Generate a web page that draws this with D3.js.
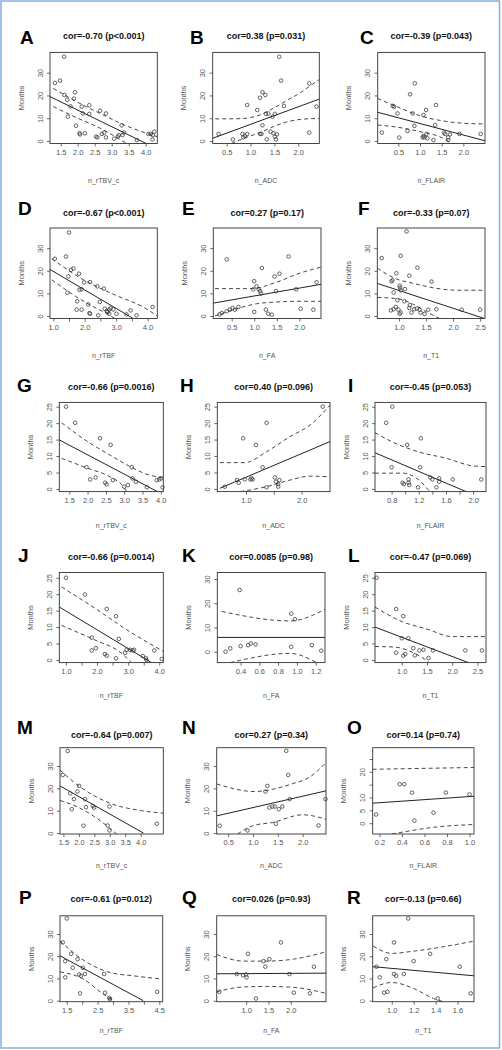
<!DOCTYPE html>
<html><head><meta charset="utf-8">
<script src="https://cdn.jsdelivr.net/npm/d3@7"></script>
<style>body{margin:0;background:#fff}svg{display:block}text{font-family:"Liberation Sans",Arial,sans-serif}</style>
</head><body><svg id="c" width="502" height="1050"></svg>
<script>
// ---------- DATA ----------
const panelLetters = ["A","B","C","D","E","F","G","H","I","J","K","L","M","N","O","P","Q","R"];
const corTitles = ["cor=-0.70 (p<0.001)","cor=0.38 (p=0.031)","cor=-0.39 (p=0.043)",
 "cor=-0.67 (p<0.001)","cor=0.27 (p=0.17)","cor=-0.33 (p=0.07)",
 "cor=-0.66 (p=0.0016)","cor=0.40 (p=0.096)","cor=-0.45 (p=0.053)",
 "cor=-0.66 (p=0.0014)","cor=0.0085 (p=0.98)","cor=-0.47 (p=0.069)",
 "cor=-0.64 (p=0.007)","cor=0.27 (p=0.34)","cor=0.14 (p=0.74)",
 "cor=-0.61 (p=0.012)","cor=0.026 (p=0.93)","cor=-0.13 (p=0.66)"];
const xAxisTitles = ["n_rTBV_c","n_ADC","n_FLAIR","n_rTBF","n_FA","n_T1",
 "n_rTBV_c","n_ADC","n_FLAIR","n_rTBF","n_FA","n_T1",
 "n_rTBV_c","n_ADC","n_FLAIR","n_rTBF","n_FA","n_T1"];
const yAxisTitle = "Months";

const xDomains = [[1.185,4.34],[0.207,2.44],[0.023,2.5],[0.894,4.31],[0.093,2.48],[0.598,2.59],
 [1.226,4.07],[0.485,2.51],[0.555,2.19],[0.786,4.13],[0.152,1.30],[0.47,2.67],
 [1.39,4.73],[0.27,2.47],[0.14,1.04],[1.28,4.61],[0.34,2.79],[0.826,1.75]];
const yDomains = [[-1.1,38.9],[-1.1,38.9],[-1.1,38.9],[-1.1,38.9],[-1.1,38.9],[-1.1,38.9],
 [-0.8,26.3],[-0.8,26.3],[-0.8,26.3],[-0.8,26.6],[-4.5,32.7],[-0.8,26.6],
 [-0.4,38.2],[-0.4,38.2],[-4.2,29.4],[-0.45,38.2],[-0.45,38.2],[-0.45,38.2]];

const xTickValues = [[1.5,2,2.5,3,3.5,4],[0.5,1,1.5,2],[0.5,1,1.5,2],[1,1.5,2,2.5,3,3.5,4],[0.5,1,1.5,2],[1,1.5,2,2.5],
 [1.5,2,2.5,3,3.5,4],[1,1.5,2],[0.8,1,1.2,1.4,1.6,1.8,2],[1,1.5,2,2.5,3,3.5,4],[0.4,0.6,0.8,1,1.2],[1,1.5,2,2.5],
 [1.5,2,2.5,3,3.5,4],[0.5,1,1.5,2],[0.2,0.4,0.6,0.8,1],[1.5,2,2.5,3,3.5,4,4.5],[1,1.5,2],[1,1.2,1.4,1.6]];
const xTickText = [["1.5","2.0","2.5","3.0","3.5","4.0"],["0.5","1.0","1.5","2.0"],["0.5","1.0","1.5","2.0"],
 ["1.0","","2.0","","3.0","","4.0"],["0.5","1.0","1.5","2.0"],["1.0","1.5","2.0","2.5"],
 ["1.5","2.0","2.5","3.0","3.5","4.0"],["1.0","","2.0"],["0.8","","1.2","","1.6","","2.0"],
 ["1.0","","2.0","","3.0","","4.0"],["0.4","0.6","0.8","1.0","1.2"],["1.0","1.5","2.0","2.5"],
 ["1.5","2.0","2.5","3.0","3.5","4.0"],["0.5","1.0","1.5","2.0"],["0.2","0.4","0.6","0.8","1.0"],
 ["1.5","","2.5","","3.5","","4.5"],["1.0","1.5","2.0"],["1.0","1.2","1.4","1.6"]];
const yTicks10 = [0,10,20,30], yTicks5 = [0,5,10,15,20,25];
const yTickValues = [yTicks10,yTicks10,yTicks10,yTicks10,yTicks10,yTicks10,
 yTicks5,yTicks5,yTicks5,yTicks5,yTicks10,yTicks5,
 yTicks10,yTicks10,[0,5,10,15,20,25],yTicks10,yTicks10,yTicks10];
const yTickText = yTickValues.map((t,i)=> i===14 ? ["0","5","10","","20",""] : t.map(String));

const ptsA=[[1.60,37.0],[1.33,25.5],[1.48,26.5],[1.61,20.2],[1.69,18.1],[1.79,15.2],[1.89,18.6],[1.92,21.4],[1.71,10.7],[1.95,6.7],[2.12,15.1],[2.15,12.1],[2.34,15.7],[2.34,11.9],[2.07,2.9],[2.05,3.4],[2.21,3.4],[2.54,1.9],[2.58,1.6],[2.66,13.3],[2.83,12.1],[2.71,3.1],[2.78,3.7],[2.83,1.6],[3.07,1.0],[3.18,1.9],[3.21,2.6],[3.29,6.9],[3.36,3.7],[3.32,2.6],[3.74,0.4],[4.08,3.1],[4.15,3.1],[4.21,2.6],[4.25,4.1],[4.20,0.7]];
const ptsB=[[1.60,37.0],[1.64,26.5],[2.23,25.3],[1.20,19.0],[1.25,21.4],[1.31,20.2],[0.93,15.8],[1.14,13.6],[1.70,15.4],[2.38,15.1],[1.32,11.9],[1.37,12.1],[1.51,11.9],[1.46,10.7],[1.25,6.9],[0.33,3.1],[0.63,0.7],[0.83,3.1],[0.93,3.1],[0.85,1.6],[1.20,3.1],[1.23,3.1],[1.34,0.7],[1.42,4.1],[1.48,3.4],[1.51,1.9],[1.53,0.7],[1.55,2.9],[2.23,3.7],[0.88,2.2]];
const ptsC=[[0.88,25.3],[0.77,20.5],[1.37,15.8],[0.37,15.4],[0.40,15.1],[0.48,12.1],[1.14,13.6],[1.08,11.4],[0.83,12.1],[1.35,7.0],[0.87,6.6],[0.71,4.4],[0.12,3.7],[0.52,1.5],[1.08,2.2],[1.10,1.6],[1.15,3.1],[1.17,1.2],[1.31,0.4],[1.55,3.7],[1.58,3.1],[1.65,1.6],[1.69,2.9],[1.91,3.1],[2.40,3.1],[1.06,1.6],[1.65,0.4]];
const ptsD=[[1.50,36.9],[1.05,25.3],[1.40,26.3],[1.56,20.4],[1.64,21.0],[1.48,17.5],[1.82,18.7],[1.45,10.3],[1.83,11.6],[1.90,11.8],[1.98,14.9],[2.17,15.0],[2.40,13.1],[2.61,12.1],[1.76,6.5],[1.74,2.8],[1.90,2.8],[2.15,1.3],[2.17,1.0],[2.43,0.3],[2.48,6.2],[2.64,3.2],[2.70,2.2],[2.73,1.8],[2.78,2.8],[2.82,3.4],[2.91,2.9],[2.78,1.0],[3.01,1.0],[3.33,0.7],[3.46,2.5],[3.65,0.3],[4.16,4.0],[2.11,5.1]];
const ptsE=[[0.39,25.0],[1.76,26.3],[1.17,21.2],[1.45,17.5],[1.56,18.7],[1.00,15.4],[1.05,13.1],[1.10,11.8],[0.98,11.8],[1.13,11.0],[1.15,9.9],[1.48,11.0],[1.93,11.8],[2.38,14.9],[0.23,0.7],[0.28,1.3],[0.39,2.1],[0.46,2.8],[0.52,3.5],[0.57,2.8],[0.65,4.0],[1.00,1.8],[1.26,2.8],[1.31,1.0],[1.39,0.6],[2.03,3.2],[2.31,2.8]];
const ptsF=[[1.14,37.4],[0.68,25.6],[1.03,26.6],[1.34,21.4],[1.19,17.8],[0.86,15.3],[0.88,15.8],[0.95,18.9],[1.60,15.2],[1.01,13.4],[1.02,12.5],[1.03,11.4],[1.11,11.9],[0.90,10.4],[0.97,7.0],[1.10,6.5],[0.85,2.5],[0.90,3.0],[0.94,4.0],[0.99,2.8],[1.01,1.0],[1.03,1.5],[1.19,3.6],[1.23,1.5],[1.28,3.0],[1.33,3.3],[1.38,2.8],[1.40,1.5],[1.47,0.9],[1.54,2.8],[1.69,3.0],[2.16,2.8],[2.50,2.8],[1.20,4.8]];
const ptsG=[[1.41,25.0],[1.66,20.1],[2.34,15.4],[2.63,13.4],[1.97,6.6],[2.07,2.9],[2.22,3.5],[2.48,1.9],[2.52,1.4],[2.69,2.7],[3.00,0.7],[3.10,1.2],[3.21,6.6],[3.23,3.2],[3.32,2.2],[3.62,0.5],[3.89,2.7],[3.96,2.9],[4.01,3.2],[4.05,0.5]];
const ptsH=[[2.38,25.0],[1.37,20.1],[0.95,15.4],[1.18,13.4],[1.30,6.6],[0.62,0.7],[0.84,2.7],[0.87,1.9],[0.98,2.9],[1.08,2.9],[1.10,3.2],[1.12,2.9],[1.37,0.5],[1.52,3.5],[1.54,2.2],[1.58,1.5],[1.58,0.7],[1.60,2.7]];
const ptsI=[[0.72,20.1],[0.81,25.0],[0.80,6.6],[1.03,13.4],[1.23,15.4],[1.22,6.6],[0.96,1.9],[0.98,1.5],[1.05,2.9],[1.06,1.2],[1.05,1.9],[1.19,0.5],[1.37,3.5],[1.40,2.9],[1.46,0.5],[1.50,3.2],[1.50,2.2],[1.70,2.9],[2.12,2.9]];
const ptsJ=[[1.00,25.0],[1.61,19.9],[2.31,15.5],[2.61,13.3],[1.83,6.8],[2.70,6.4],[1.83,2.9],[1.96,3.6],[2.25,1.8],[2.31,1.3],[2.61,0.5],[2.90,2.2],[2.95,3.1],[3.06,3.1],[3.14,2.9],[3.19,3.1],[3.47,1.2],[3.59,0.0],[3.57,0.5],[3.84,2.9],[4.08,0.3]];
const ptsK=[[0.24,0.0],[0.29,1.4],[0.39,25.5],[0.40,2.3],[0.48,2.7],[0.51,3.4],[0.56,3.0],[0.94,2.0],[0.94,15.7],[0.98,13.4],[1.16,2.7],[1.26,0.4]];
const ptsL=[[0.50,25.0],[0.89,15.5],[1.03,13.3],[1.00,6.6],[1.13,6.6],[0.89,2.2],[1.03,1.3],[1.07,1.8],[1.23,3.6],[1.26,1.4],[1.35,2.9],[1.43,3.1],[1.53,0.6],[1.62,2.9],[2.26,2.9],[2.59,2.9]];
const ptsM=[[1.64,36.7],[1.48,26.0],[1.72,17.8],[1.77,10.7],[1.84,15.2],[1.95,18.6],[2.01,21.1],[2.20,15.2],[2.23,11.6],[2.15,3.3],[2.45,12.2],[2.49,11.4],[2.99,11.9],[2.93,3.4],[2.99,1.2],[4.52,4.2]];
const ptsN=[[1.67,36.8],[1.71,26.0],[1.25,18.6],[1.29,21.1],[1.33,11.4],[1.39,11.9],[1.44,11.9],[1.52,10.7],[1.59,11.9],[1.74,15.2],[1.46,4.2],[0.33,3.3],[0.89,1.2],[2.32,3.4],[2.46,15.2]];
const ptsO=[[0.17,3.4],[0.38,15.2],[0.42,15.2],[0.49,11.9],[0.51,1.0],[0.68,4.1],[0.79,11.9],[1.00,11.2]];
const ptsP=[[1.50,37.0],[1.37,26.2],[1.45,17.8],[1.45,10.5],[1.64,21.1],[1.69,14.8],[1.85,18.7],[1.90,11.8],[1.96,11.2],[2.02,14.8],[2.09,12.0],[1.93,3.3],[2.71,12.0],[2.74,3.6],[2.88,1.3],[2.90,0.7],[4.43,4.0]];
const ptsQ=[[0.40,4.0],[0.79,12.0],[0.93,11.5],[1.00,11.8],[1.01,10.5],[1.04,21.1],[1.22,1.0],[1.43,15.3],[1.39,17.8],[1.52,18.7],[1.78,26.2],[1.97,12.0],[2.07,3.6],[2.43,3.3],[2.52,15.3]];
const ptsR=[[0.86,15.3],[0.89,10.5],[0.93,3.6],[0.96,4.0],[0.95,18.7],[1.02,26.2],[1.02,12.0],[1.04,11.2],[1.11,12.0],[1.15,37.0],[1.20,17.8],[1.35,21.1],[1.42,1.0],[1.62,15.3],[1.72,3.3]];
const panelPoints=[ptsA,ptsB,ptsC,ptsD,ptsE,ptsF,ptsG,ptsH,ptsI,ptsJ,ptsK,ptsL,ptsM,ptsN,ptsO,ptsP,ptsQ,ptsR];

const fitLines=[[[1.185,19.5],[4.0,-1.0]],[[0.207,1.2],[2.44,18.4]],[[0.023,12.6],[2.5,0.1]],
 [[0.89,20.6],[3.52,-0.9]],[[0.093,5.7],[2.48,14.0]],[[0.6,14.4],[2.59,-1.2]],
 [[1.226,14.9],[3.96,-1.1]],[[0.53,0.2],[2.51,14.4]],[[0.555,11.0],[1.93,-1.1]],
 [[0.786,16.1],[3.75,-0.8]],[[0.152,5.9],[1.30,5.9]],[[0.47,10.0],[2.32,-0.8]],
 [[1.39,21.1],[4.09,0]],[[0.27,7.7],[2.47,18.9]],[[0.14,7.8],[1.04,10.5]],
 [[1.28,20.2],[3.98,0]],[[0.34,12.1],[2.79,12.4]],[[0.83,15.3],[1.75,11.2]]];

const upA=[[1.28,23.1],[2.0,17.0],[2.66,12.1],[3.3,7.5],[4.08,3.1],[4.34,1.9]];
const loA=[[1.28,15.1],[2.0,10.0],[2.66,5.6],[3.44,-1.1]];
const upB=[[0.26,9.7],[0.8,9.8],[1.0,10.3],[1.2,11.5],[1.4,13.5],[1.6,15.8],[1.8,18.3],[2.0,20.6],[2.2,23.5],[2.44,27.0]];
const loB=[[0.6,-1.1],[0.9,1.5],[1.2,3.7],[1.5,6.5],[1.8,8.6],[2.1,9.6],[2.44,9.9]];
const upC=[[0.02,18.7],[0.5,14.8],[1.0,11.1],[1.5,8.9],[2.0,7.8],[2.5,7.5]];
const loC=[[0.02,7.0],[0.5,6.0],[1.0,4.1],[1.5,1.5],[1.73,-1.1]];
const upD=[[0.95,25.3],[2.0,15.7],[3.0,9.1],[3.86,4.0],[4.31,0.0]];
const loD=[[0.95,16.0],[2.0,6.2],[2.7,1.0],[2.96,-1.1]];
const upE=[[0.13,12.1],[0.94,12.1],[1.5,15.0],[2.02,19.0],[2.48,21.6]];
const loE=[[0.13,0.0],[0.61,3.2],[1.05,5.4],[1.5,6.2],[2.02,6.5],[2.48,6.5]];
const upF=[[0.6,21.1],[0.96,16.3],[1.27,14.4],[1.70,12.2],[2.07,11.4],[2.59,11.4]];
const loF=[[0.6,8.2],[0.96,7.7],[1.27,5.1],[1.51,1.8],[1.76,-1.2]];
const upG=[[1.29,20.1],[2.0,14.4],[2.61,10.3],[3.25,6.3],[3.66,4.3],[4.07,3.5]];
const loG=[[1.29,9.3],[2.0,6.3],[2.61,3.7],[2.98,0.7],[3.07,-0.8]];
const upH=[[0.53,8.0],[0.98,8.0],[1.37,11.3],[1.79,15.9],[2.15,19.4],[2.51,25.5]];
const loH=[[0.9,-0.8],[1.37,0.7],[1.79,2.7],[2.15,3.9],[2.51,3.7]];
const upI=[[0.555,17.1],[0.8,14.4],[1.19,11.3],[1.61,9.3],[2.0,7.0],[2.19,6.8]];
const loI=[[0.555,4.8],[0.97,4.8],[1.19,2.9],[1.36,-0.8]];
const upJ=[[0.86,22.2],[2.0,15.3],[2.95,9.2],[3.49,6.1],[4.13,2.6]];
const loJ=[[0.86,10.5],[2.0,5.8],[2.68,2.8],[3.11,-0.8]];
const upK=[[0.2,16.6],[0.93,12.7],[1.30,17.5]];
const loK=[[0.29,-4.5],[0.93,-0.7],[1.21,-4.5]];
const upL=[[0.47,16.1],[1.0,11.7],[1.5,9.4],[2.0,7.1],[2.67,7.1]];
const loL=[[0.47,4.1],[0.87,3.9],[1.23,2.2],[1.53,-0.5]];
const upM=[[1.39,28.2],[2.0,21.1],[3.0,13.4],[4.0,10.1],[4.73,8.9]];
const loM=[[1.39,14.6],[2.0,11.4],[2.5,7.4],[3.0,2.2],[3.22,-0.4]];
const upN=[[0.27,22.0],[1.03,18.6],[1.78,22.0],[2.16,25.3],[2.47,31.5]];
const loN=[[0.69,-0.4],[1.0,3.3],[1.40,4.8],[2.0,8.2],[2.47,6.2]];
const upO=[[0.14,21.0],[1.04,21.7]];
const loO=[[0.31,-4.2],[0.40,-3.5],[0.68,-1.6],[1.04,-0.5]];
const upP=[[1.28,26.8],[2.09,17.8],[2.90,12.7],[3.66,11.2],[4.61,9.7]];
const loP=[[1.28,13.0],[2.09,9.3],[2.58,4.0],[3.06,-0.45]];
const upQ=[[0.34,20.8],[0.94,17.8],[1.46,17.8],[2.06,18.7],[2.79,22.0]];
const loQ=[[0.34,4.0],[0.94,6.2],[1.46,6.4],[2.06,6.0],[2.79,3.3]];
const upR=[[0.83,24.6],[1.0,21.3],[1.2,22.3],[1.75,26.8]];
const loR=[[0.83,5.8],[1.0,8.2],[1.2,5.5],[1.38,1.0],[1.47,-0.45]];
const upperBands=[upA,upB,upC,upD,upE,upF,upG,upH,upI,upJ,upK,upL,upM,upN,upO,upP,upQ,upR];
const lowerBands=[loA,loB,loC,loD,loE,loF,loG,loH,loI,loJ,loK,loL,loM,loN,loO,loP,loQ,loR];

// ---------- LAYOUT (pixels) ----------
const rowBox = [[52.4,143.5],[228,318.5],[402.4,491.6],[572.5,662.6],[747.7,834],[915.8,1001.7]];
const colBox = [
 [[50,157.3],[212.7,319.3],[377.7,485]],
 [[50,157.3],[213.3,321],[377.3,485]],
 [[59.3,163.3],[217.3,330],[375,486]],
 [[59.3,163.3],[217.3,325],[375,486]],
 [[60,163.3],[216.7,326],[372.7,474]],
 [[60,162.7],[216.7,326],[372.7,474]]];
const letterX = [[20,190,360],[18,182,358],[17,180,348],[18,182,348],[17,182,347],[19,182,347]];
const letterBase = [44,215,392,562,734,904];
const titleBase = [38.5,215.5,390,560,738,902];
const xTitleBase = [182.5,357.5,527.5,697.5,867.5,1032.5];

// ---------- DRAW ----------
const svg = d3.select("#c");
svg.append("rect").attr("x",1).attr("y",1).attr("width",498.5).attr("height",1047)
  .attr("fill","#fff").attr("stroke","#8db3e2").attr("stroke-width",1.6);

const defs = svg.append("defs");
const straight = d3.line();
const smooth = d3.line().curve(d3.curveMonotoneX);

panelLetters.forEach((L,i)=>{
  const r = Math.floor(i/3), c = i%3;
  const [x0,x1] = colBox[r][c], [y0,y1] = rowBox[r];
  const xs = d3.scaleLinear().domain(xDomains[i]).range([x0,x1]);
  const ys = d3.scaleLinear().domain(yDomains[i]).range([y1,y0]);
  const g = svg.append("g");

  defs.append("clipPath").attr("id","clip"+i).append("rect")
    .attr("x",x0).attr("y",y0).attr("width",x1-x0).attr("height",y1-y0);

  g.append("text").attr("x",letterX[r][c]).attr("y",letterBase[r])
    .attr("font-size",19).attr("font-weight","bold").attr("fill","#000").text(L);
  g.append("text").attr("x",(x0+x1)/2).attr("y",titleBase[r]).attr("text-anchor","middle")
    .attr("font-size",9).attr("font-weight","bold").attr("fill","#111").text(corTitles[i]);

  const xa = g.append("g").attr("transform",`translate(0,${y1})`)
    .call(d3.axisBottom(xs).tickValues(xTickValues[i]).tickSize(3).tickPadding(3)
      .tickFormat((d,k)=>xTickText[i][k]));
  const ya = g.append("g").attr("transform",`translate(${x0},0)`)
    .call(d3.axisLeft(ys).tickValues(yTickValues[i]).tickSize(3)
      .tickFormat((d,k)=>yTickText[i][k]));
  [xa,ya].forEach(a=>{
    a.select(".domain").remove();
    a.selectAll("line").attr("stroke","#444").attr("stroke-width",0.8);
    a.selectAll("text").attr("fill","#555").attr("font-size",7.5)
      .attr("font-family",'"Liberation Sans",Arial,sans-serif');
  });
  ya.selectAll("text").attr("transform","rotate(-90)").attr("x",0).attr("y",-7.5)
    .attr("dy",null).attr("text-anchor","middle");

  g.append("text").attr("x",(x0+x1)/2).attr("y",xTitleBase[r]).attr("text-anchor","middle")
    .attr("font-size",7).attr("fill","#555").text(xAxisTitles[i]);
  g.append("text").attr("transform",`translate(${x0-26.5},${(y0+y1)/2}) rotate(-90)`)
    .attr("text-anchor","middle").attr("font-size",7.5).attr("fill","#555").text(yAxisTitle);

  g.append("rect").attr("x",x0).attr("y",y0).attr("width",x1-x0).attr("height",y1-y0)
    .attr("fill","none").attr("stroke","#333").attr("stroke-width",0.9);

  const inner = g.append("g").attr("clip-path",`url(#clip${i})`);
  const toPx = p => [xs(p[0]),ys(p[1])];
  inner.append("path").attr("d",straight(fitLines[i].map(toPx)))
    .attr("fill","none").attr("stroke","#222").attr("stroke-width",1);
  [upperBands[i],lowerBands[i]].forEach(b=>{
    inner.append("path").attr("d",smooth(b.map(toPx)))
      .attr("fill","none").attr("stroke","#333").attr("stroke-width",0.9)
      .attr("stroke-dasharray","4,3");
  });
  g.append("g").selectAll("circle").data(panelPoints[i]).join("circle")
    .attr("cx",d=>xs(d[0])).attr("cy",d=>ys(d[1])).attr("r",1.8)
    .attr("fill","none").attr("stroke","#333").attr("stroke-width",0.75);
});
</script></body></html>
